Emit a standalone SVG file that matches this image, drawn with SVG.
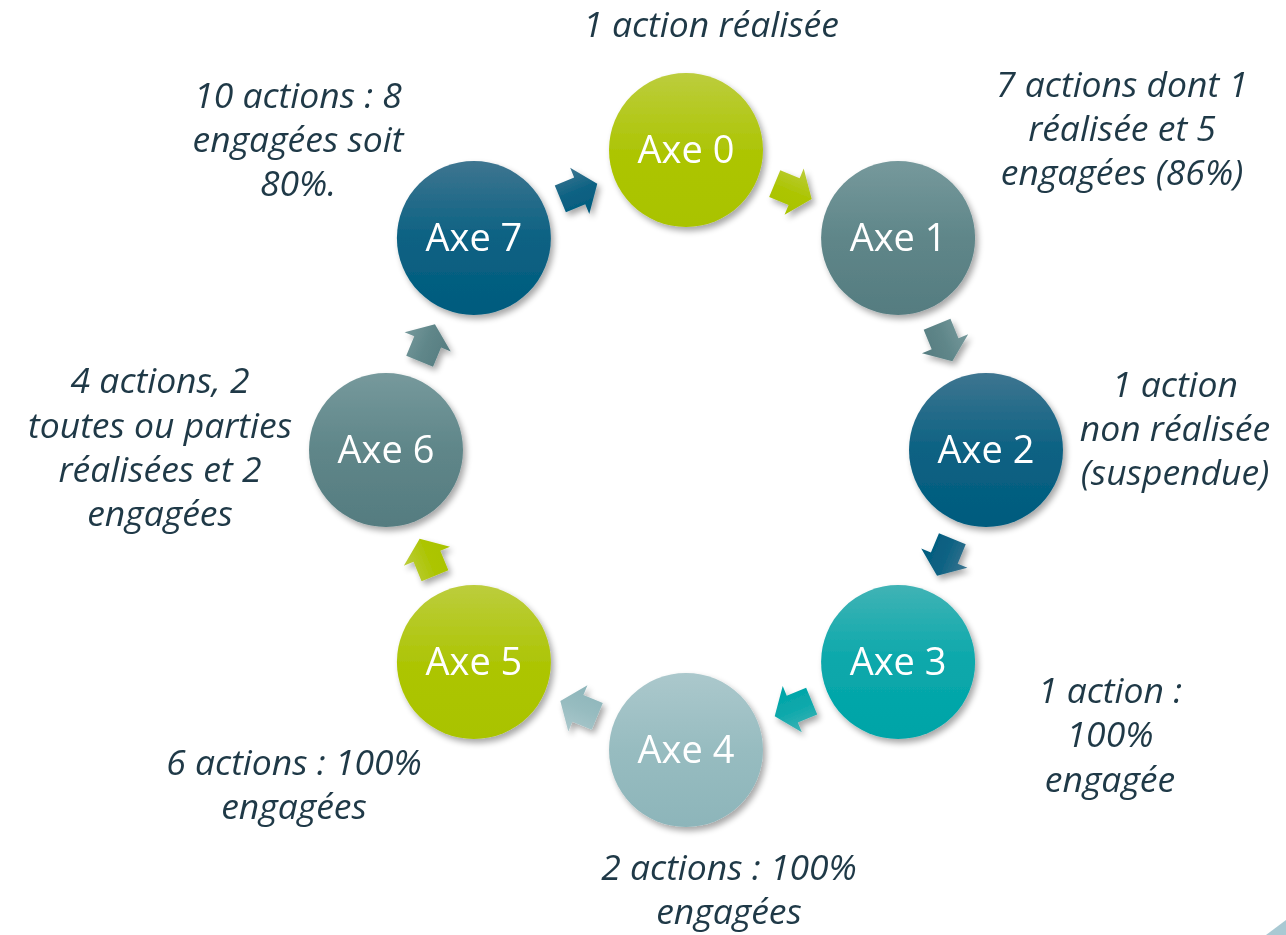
<svg xmlns="http://www.w3.org/2000/svg" width="1286" height="935" viewBox="0 0 1286 935">
<style>
.lbl{font-family:"Open Sans","Noto Sans","DejaVu Sans",sans-serif;font-size:38px;fill:#ffffff;text-anchor:middle}
.note{font-family:"Open Sans","Noto Sans","DejaVu Sans",sans-serif;font-size:35.5px;font-style:italic;fill:#1f3947;text-anchor:middle}
</style>
<defs>
<filter id="sh" x="-30%" y="-30%" width="160%" height="160%">
<feGaussianBlur in="SourceAlpha" stdDeviation="3"/>
<feOffset dx="3" dy="4" result="b"/>
<feComponentTransfer><feFuncA type="linear" slope="0.35"/></feComponentTransfer>
<feMerge><feMergeNode/><feMergeNode in="SourceGraphic"/></feMerge>
</filter>
<linearGradient id="gLime" x1="0" y1="0" x2="0" y2="1"><stop offset="0" stop-color="#bccd3d"/><stop offset="0.5" stop-color="#adc506"/><stop offset="1" stop-color="#a9c300"/></linearGradient>
<linearGradient id="gGrey" x1="0" y1="0" x2="0" y2="1"><stop offset="0" stop-color="#76999c"/><stop offset="0.5" stop-color="#5f8689"/><stop offset="1" stop-color="#557c80"/></linearGradient>
<linearGradient id="gBlue" x1="0" y1="0" x2="0" y2="1"><stop offset="0" stop-color="#3e7590"/><stop offset="0.5" stop-color="#0c6283"/><stop offset="1" stop-color="#005b7e"/></linearGradient>
<linearGradient id="gTeal" x1="0" y1="0" x2="0" y2="1"><stop offset="0" stop-color="#40b3b5"/><stop offset="0.5" stop-color="#0aa8ab"/><stop offset="1" stop-color="#00a4a7"/></linearGradient>
<linearGradient id="gLight" x1="0" y1="0" x2="0" y2="1"><stop offset="0" stop-color="#abc8cc"/><stop offset="0.5" stop-color="#97bcc0"/><stop offset="1" stop-color="#8db5ba"/></linearGradient>
<path id="arr" d="M -20,-14.5 L 1,-14.5 L 1,-25 L 20,0 L 1,25 L 1,14.5 L -20,14.5 Z"/>
</defs>
<rect width="1286" height="935" fill="#ffffff"/>
<g id="connectors" filter="url(#sh)">
<use href="#arr" fill="url(#gBlue)" transform="translate(578.8,191.3) rotate(-22.5)"/>
<use href="#arr" fill="url(#gLime)" transform="translate(793.2,191.3) rotate(22.5)"/>
<use href="#arr" fill="url(#gGrey)" transform="translate(944.7,342.8) rotate(67.5)"/>
<use href="#arr" fill="url(#gBlue)" transform="translate(944.7,557.2) rotate(112.5)"/>
<use href="#arr" fill="url(#gTeal)" transform="translate(793.2,708.7) rotate(157.5)"/>
<use href="#arr" fill="url(#gLight)" transform="translate(578.8,708.7) rotate(202.5)"/>
<use href="#arr" fill="url(#gLime)" transform="translate(427.3,557.2) rotate(247.5)"/>
<use href="#arr" fill="url(#gGrey)" transform="translate(427.3,342.8) rotate(292.5)"/>
</g>
<g id="axe0"><circle cx="686" cy="150" r="77" fill="url(#gLime)" filter="url(#sh)"/><text class="lbl" x="686" y="163">Axe 0</text></g>
<g id="axe1"><circle cx="898.1" cy="237.9" r="77" fill="url(#gGrey)" filter="url(#sh)"/><text class="lbl" x="898.1" y="250.9">Axe 1</text></g>
<g id="axe2"><circle cx="986" cy="450" r="77" fill="url(#gBlue)" filter="url(#sh)"/><text class="lbl" x="986" y="463">Axe 2</text></g>
<g id="axe3"><circle cx="898.1" cy="662.1" r="77" fill="url(#gTeal)" filter="url(#sh)"/><text class="lbl" x="898.1" y="675.1">Axe 3</text></g>
<g id="axe4"><circle cx="686" cy="750" r="77" fill="url(#gLight)" filter="url(#sh)"/><text class="lbl" x="686" y="763">Axe 4</text></g>
<g id="axe5"><circle cx="473.9" cy="662.1" r="77" fill="url(#gLime)" filter="url(#sh)"/><text class="lbl" x="473.9" y="675.1">Axe 5</text></g>
<g id="axe6"><circle cx="386" cy="450" r="77" fill="url(#gGrey)" filter="url(#sh)"/><text class="lbl" x="386" y="463">Axe 6</text></g>
<g id="axe7"><circle cx="473.9" cy="237.9" r="77" fill="url(#gBlue)" filter="url(#sh)"/><text class="lbl" x="473.9" y="250.9">Axe 7</text></g>
<g id="notes">
<text class="note" x="711" y="37">1 action réalisée</text>
<text class="note" x="1122" y="97">7 actions dont 1</text>
<text class="note" x="1122" y="141">réalisée et 5</text>
<text class="note" x="1122" y="185">engagées (86%)</text>
<text class="note" x="1175" y="397">1 action</text>
<text class="note" x="1175" y="441">non réalisée</text>
<text class="note" x="1175" y="485">(suspendue)</text>
<text class="note" x="1110" y="703">1 action :</text>
<text class="note" x="1110" y="747">100%</text>
<text class="note" x="1110" y="792">engagée</text>
<text class="note" x="729" y="880">2 actions : 100%</text>
<text class="note" x="729" y="924">engagées</text>
<text class="note" x="294" y="775">6 actions : 100%</text>
<text class="note" x="294" y="819">engagées</text>
<text class="note" x="160" y="393">4 actions, 2</text>
<text class="note" x="160" y="438">toutes ou parties</text>
<text class="note" x="160" y="482">réalisées et 2</text>
<text class="note" x="160" y="526">engagées</text>
<text class="note" x="298" y="108">10 actions : 8</text>
<text class="note" x="298" y="152">engagées soit</text>
<text class="note" x="298" y="196">80%.</text>
</g>
<polygon points="1266,935 1286,920 1286,935" fill="#a9c9d3"/>
</svg>
